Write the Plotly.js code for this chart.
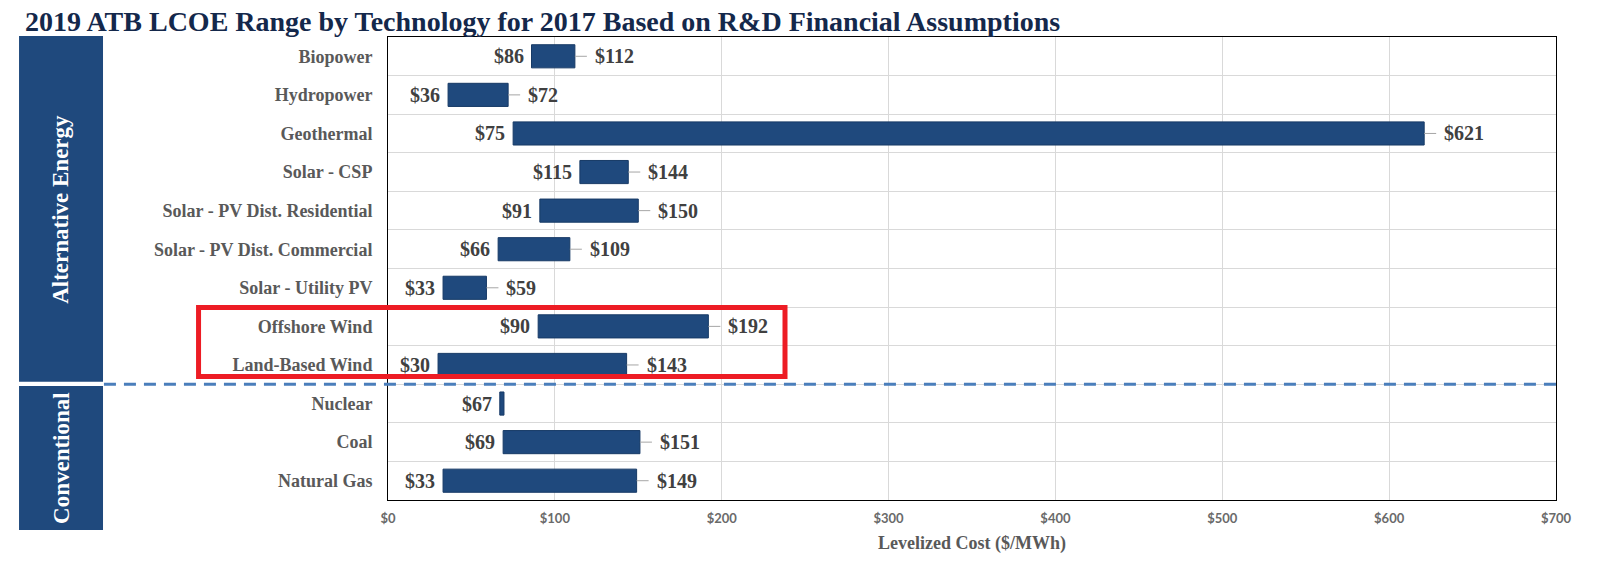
<!DOCTYPE html>
<html>
<head>
<meta charset="utf-8">
<script src="https://cdn.plot.ly/plotly-3.0.1.min.js"></script>
<style>html,body{margin:0;padding:0;background:#fff;}</style>
</head>
<body>
<div id="chart" style="width:1604px;height:568px;"></div>
<script>
// Technologies, top to bottom
const technologies = [
  "Biopower", "Hydropower", "Geothermal", "Solar - CSP",
  "Solar - PV Dist. Residential", "Solar - PV Dist. Commercial",
  "Solar - Utility PV", "Offshore Wind", "Land-Based Wind",
  "Nuclear", "Coal", "Natural Gas"
];
// LCOE range ($/MWh)
const lowValues  = [86, 36, 75, 115, 91, 66, 33, 90, 30, 67, 69, 33];
const highValues = [112, 72, 621, 144, 150, 109, 59, 192, 143, 69.5, 151, 149];
// Data labels (Nuclear's high label is not shown)
const lowLabels  = ["$86", "$36", "$75", "$115", "$91", "$66", "$33", "$90", "$30", "$67", "$69", "$33"];
const highLabels = ["$112", "$72", "$621", "$144", "$150", "$109", "$59", "$192", "$143", "", "$151", "$149"];
const groupNames = ["Alternative Energy", "Conventional"];
const xTickValues = [0, 100, 200, 300, 400, 500, 600, 700];
const xTickLabels = ["$0", "$100", "$200", "$300", "$400", "$500", "$600", "$700"];

const serif = "Liberation Serif, Times New Roman, serif";
const navy = "#1F497D";

const trace = {
  type: "bar",
  orientation: "h",
  y: technologies,
  base: lowValues,
  x: highValues.map((h, i) => h - lowValues[i]),
  width: 0.6,
  marker: {color: navy, line: {color: "#173a66", width: 1}},
  hoverinfo: "skip",
  showlegend: false
};

const labelFont = {family: serif, size: 20, color: "#404040", weight: 700};
const annotations = [];
technologies.forEach((t, i) => {
  annotations.push({
    x: lowValues[i], y: t, xref: "x", yref: "y",
    text: lowLabels[i], showarrow: false,
    xanchor: "right", yanchor: "middle", xshift: -6,
    font: labelFont
  });
  if (highLabels[i]) {
    annotations.push({
      x: highValues[i], y: t, xref: "x", yref: "y",
      text: highLabels[i], showarrow: true,
      ax: 18, ay: 0, xanchor: "left", yanchor: "middle",
      arrowhead: 0, arrowwidth: 1, arrowcolor: "#a6a6a6",
      startstandoff: 6, standoff: 0,
      font: labelFont
    });
  }
});
// group labels in the side bands
annotations.push({
  x: -0.280, y: 0.6287, xref: "paper", yref: "paper",
  text: groupNames[0], textangle: -90, showarrow: false,
  xanchor: "center", yanchor: "middle",
  font: {family: serif, size: 23, color: "#ffffff", weight: 700}
});
annotations.push({
  x: -0.280, y: 0.0907, xref: "paper", yref: "paper",
  text: groupNames[1], textangle: -90, showarrow: false,
  xanchor: "center", yanchor: "middle",
  font: {family: serif, size: 23, color: "#ffffff", weight: 700}
});

const shapes = [
  {type: "rect", xref: "paper", yref: "paper", x0: -0.3159, x1: -0.2440, y0: 0.2555, y1: 1.0022,
   fillcolor: navy, line: {width: 0}, layer: "above"},
  {type: "rect", xref: "paper", yref: "paper", x0: -0.3159, x1: -0.2440, y0: -0.0648, y1: 0.2462,
   fillcolor: navy, line: {width: 0}, layer: "above"},
  {type: "line", xref: "paper", yref: "y", x0: -0.2432, x1: 1, y0: 8.5, y1: 8.5,
   line: {color: "#4a7ebb", width: 3, dash: "12px,8px"}, layer: "above"},
  {type: "rect", xref: "paper", yref: "y", x0: -0.1622, x1: 0.3399, y0: 6.51, y1: 8.3,
   fillcolor: "rgba(0,0,0,0)", line: {color: "#ed1c24", width: 5}, layer: "above"}
];

const layout = {
  width: 1604, height: 568,
  margin: {l: 388, r: 48, t: 37, b: 68},
  paper_bgcolor: "#ffffff", plot_bgcolor: "#ffffff",
  title: {
    text: "2019 ATB LCOE Range by Technology for 2017 Based on R&D Financial Assumptions",
    x: 25 / 1604, xref: "container", xanchor: "left",
    y: 0.9618, yref: "container", yanchor: "middle",
    font: {family: serif, size: 28, color: "#14284b", weight: 700}
  },
  xaxis: {
    range: [0, 700], tickmode: "array", tickvals: xTickValues, ticktext: xTickLabels,
    showgrid: true, gridcolor: "#d9d9d9", gridwidth: 1,
    zeroline: false, showline: true, mirror: true, linecolor: "#000000", linewidth: 1,
    ticks: "", ticklabelstandoff: 6,
    tickfont: {family: "Lato, sans-serif", size: 13, color: "#6a6a6a", weight: 700},
    title: {text: "Levelized Cost ($/MWh)", standoff: 11,
            font: {family: serif, size: 18, color: "#595959", weight: 700}},
    fixedrange: true
  },
  yaxis: {
    type: "category", autorange: "reversed", tickson: "boundaries",
    showgrid: true, gridcolor: "#d9d9d9", gridwidth: 1,
    showline: true, mirror: true, linecolor: "#000000", linewidth: 1,
    ticks: "", ticklabelstandoff: 11,
    tickfont: {family: serif, size: 18, color: "#595959", weight: 700},
    fixedrange: true
  },
  annotations: annotations,
  shapes: shapes,
  showlegend: false
};

Plotly.newPlot("chart", [trace], layout, {displayModeBar: false, staticPlot: true});
</script>
</body>
</html>
